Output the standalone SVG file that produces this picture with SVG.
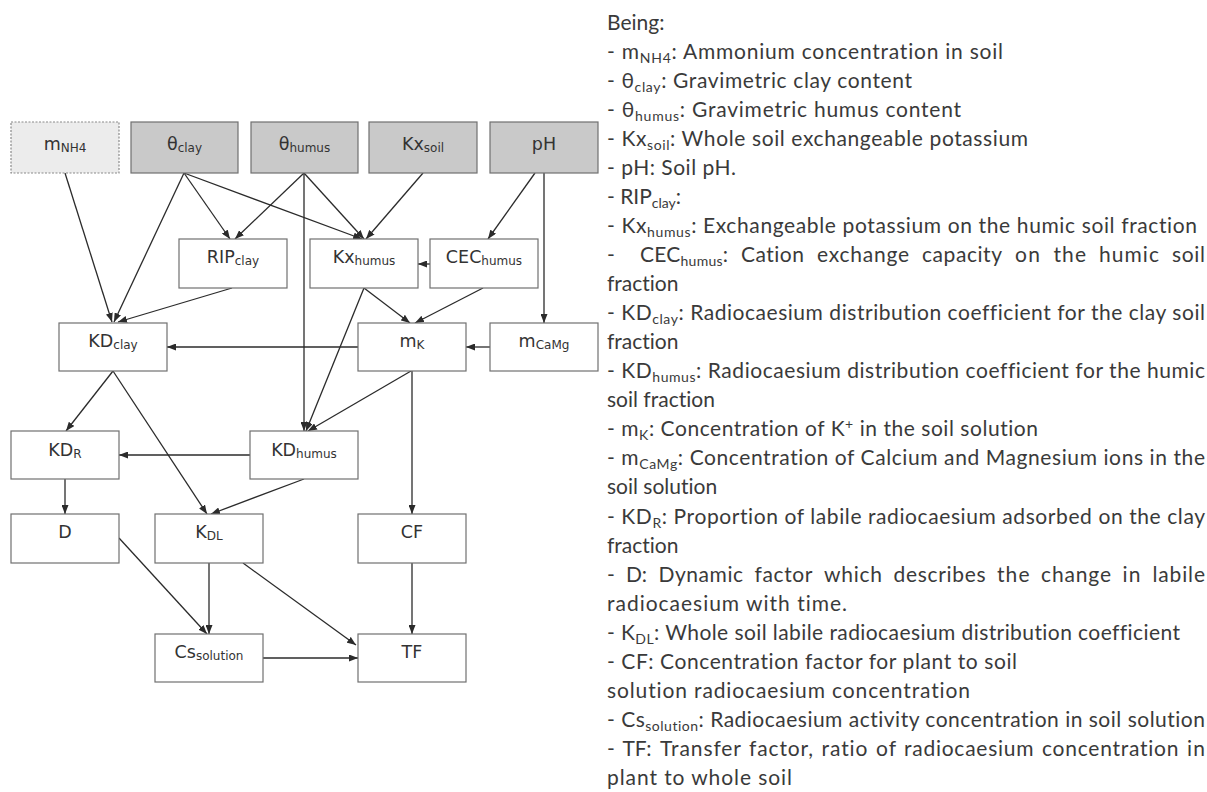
<svg xmlns="http://www.w3.org/2000/svg" width="1207" height="792" viewBox="0 0 1207 792">
<defs>
<marker id="arr" markerUnits="userSpaceOnUse" markerWidth="9" markerHeight="7" refX="9" refY="3.5" orient="auto"><path d="M0,0 L9,3.5 L0,7 z" fill="#2b2b2b"/></marker>
<style>
.box{fill:#fff;stroke:#707070;stroke-width:1.2}
.in{fill:#c9c9c9}
.opt{fill:#ececec;stroke:#8a8a8a;stroke-dasharray:2 1.5}
.lbl{font-family:'DejaVu Sans',Verdana,sans-serif;font-size:17.5px;fill:#333;text-anchor:middle}
.sub{font-size:12px}
.edge{stroke:#2b2b2b;stroke-width:1.3;fill:none;marker-end:url(#arr)}
.lg{font-family:Lato,'Noto Sans',sans-serif;font-size:21px;fill:#3a3a3a;font-variant-ligatures:none;font-feature-settings:"liga" 0}
.ls{font-size:14px}
</style>
</defs>
<rect width="1207" height="792" fill="#fff"/>

<!-- connectors -->
<g id="connectors">
<line class="edge" x1="65" y1="173" x2="112" y2="322"/>
<line class="edge" x1="184" y1="173" x2="114" y2="322"/>
<line class="edge" x1="184" y1="173" x2="230" y2="239"/>
<line class="edge" x1="184" y1="173" x2="362" y2="239"/>
<line class="edge" x1="304" y1="173" x2="235" y2="239"/>
<line class="edge" x1="304" y1="173" x2="364" y2="239"/>
<line class="edge" x1="304" y1="173" x2="304" y2="431"/>
<line class="edge" x1="423" y1="173" x2="366" y2="239"/>
<line class="edge" x1="535" y1="173" x2="488" y2="239"/>
<line class="edge" x1="544" y1="173" x2="544" y2="323"/>
<line class="edge" x1="430" y1="264" x2="418" y2="264"/>
<line class="edge" x1="232" y1="288" x2="118" y2="322"/>
<line class="edge" x1="364" y1="288" x2="410" y2="323"/>
<line class="edge" x1="364" y1="288" x2="306" y2="431"/>
<line class="edge" x1="483" y1="288" x2="415" y2="323"/>
<line class="edge" x1="490" y1="347" x2="466" y2="347"/>
<line class="edge" x1="358" y1="347" x2="167" y2="347"/>
<line class="edge" x1="411" y1="371" x2="308" y2="431"/>
<line class="edge" x1="412" y1="371" x2="412" y2="514"/>
<line class="edge" x1="113" y1="371" x2="66" y2="431"/>
<line class="edge" x1="113" y1="371" x2="207" y2="514"/>
<line class="edge" x1="250" y1="455" x2="119" y2="455"/>
<line class="edge" x1="304" y1="479" x2="211" y2="514"/>
<line class="edge" x1="65" y1="479" x2="65" y2="514"/>
<line class="edge" x1="119" y1="538" x2="207" y2="634"/>
<line class="edge" x1="209" y1="563" x2="209" y2="634"/>
<line class="edge" x1="243" y1="563" x2="356" y2="645"/>
<line class="edge" x1="412" y1="563" x2="412" y2="634"/>
<line class="edge" x1="263" y1="658" x2="358" y2="658"/>
</g>

<!-- input variables -->
<g id="mNH4"><rect class="box opt" x="11" y="122" width="108" height="51"/><text class="lbl" x="65" y="150">m<tspan class="sub" dy="2">NH4</tspan></text></g>
<g id="thetaClay"><rect class="box in" x="131" y="122" width="107" height="51"/><text class="lbl" x="184.5" y="150">θ<tspan class="sub" dy="2">clay</tspan></text></g>
<g id="thetaHumus"><rect class="box in" x="251" y="122" width="107" height="51"/><text class="lbl" x="304.5" y="150">θ<tspan class="sub" dy="2">humus</tspan></text></g>
<g id="KxSoil"><rect class="box in" x="369" y="122" width="108" height="51"/><text class="lbl" x="423" y="150">Kx<tspan class="sub" dy="2">soil</tspan></text></g>
<g id="pH"><rect class="box in" x="490" y="122" width="108" height="51"/><text class="lbl" x="544" y="150">pH</text></g>

<!-- intermediate quantities -->
<g id="RIPclay"><rect class="box" x="179" y="239" width="108" height="49"/><text class="lbl" x="233" y="263">RIP<tspan class="sub" dy="2">clay</tspan></text></g>
<g id="KxHumus"><rect class="box" x="310" y="239" width="108" height="49"/><text class="lbl" x="364" y="263">Kx<tspan class="sub" dy="2">humus</tspan></text></g>
<g id="CECHumus"><rect class="box" x="430" y="239" width="108" height="49"/><text class="lbl" x="484" y="263">CEC<tspan class="sub" dy="2">humus</tspan></text></g>
<g id="KDclay"><rect class="box" x="59" y="323" width="108" height="48"/><text class="lbl" x="113" y="347">KD<tspan class="sub" dy="2">clay</tspan></text></g>
<g id="mK"><rect class="box" x="358" y="323" width="108" height="48"/><text class="lbl" x="412" y="347">m<tspan class="sub" dy="2">K</tspan></text></g>
<g id="mCaMg"><rect class="box" x="490" y="323" width="108" height="48"/><text class="lbl" x="544" y="347">m<tspan class="sub" dy="2">CaMg</tspan></text></g>
<g id="KDR"><rect class="box" x="11" y="431" width="108" height="48"/><text class="lbl" x="65" y="456">KD<tspan class="sub" dy="2">R</tspan></text></g>
<g id="KDhumus"><rect class="box" x="250" y="431" width="108" height="48"/><text class="lbl" x="304" y="456">KD<tspan class="sub" dy="2">humus</tspan></text></g>
<g id="D"><rect class="box" x="11" y="514" width="108" height="49"/><text class="lbl" x="65" y="538">D</text></g>
<g id="KDL"><rect class="box" x="155" y="514" width="108" height="49"/><text class="lbl" x="209" y="538">K<tspan class="sub" dy="2">DL</tspan></text></g>
<g id="CF"><rect class="box" x="358" y="514" width="108" height="49"/><text class="lbl" x="412" y="538">CF</text></g>
<g id="CsSolution"><rect class="box" x="155" y="634" width="108" height="48"/><text class="lbl" x="209" y="658">Cs<tspan class="sub" dy="2">solution</tspan></text></g>
<g id="TF"><rect class="box" x="358" y="634" width="108" height="48"/><text class="lbl" x="412" y="658">TF</text></g>

<!-- legend (justified paragraph, right column 607..1205) -->
<g id="legend">
<text class="lg" x="607" y="29.5">Being:</text>
<text class="lg" x="607" y="58.5" textLength="396">- m<tspan class="ls" dy="4">NH4</tspan><tspan dy="-4">: Ammonium concentration in soil</tspan></text>
<text class="lg" x="607" y="87.6" textLength="305">- θ<tspan class="ls" dy="4">clay</tspan><tspan dy="-4">: Gravimetric clay content</tspan></text>
<text class="lg" x="607" y="116.6" textLength="354">- θ<tspan class="ls" dy="4">humus</tspan><tspan dy="-4">: Gravimetric humus content</tspan></text>
<text class="lg" x="607" y="145.7" textLength="421">- Kx<tspan class="ls" dy="4">soil</tspan><tspan dy="-4">: Whole soil exchangeable potassium</tspan></text>
<text class="lg" x="607" y="174.7" textLength="129">- pH: Soil pH.</text>
<text class="lg" x="607" y="203.8">- RIP<tspan class="ls" dy="4">clay</tspan><tspan dy="-4">:</tspan></text>
<text class="lg" x="607" y="232.9" textLength="590">- Kx<tspan class="ls" dy="4">humus</tspan><tspan dy="-4">: Exchangeable potassium on the humic soil fraction</tspan></text>
<g id="lineCEC">
<text class="lg" x="607" y="261.9">-</text>
<text class="lg" x="640" y="261.9" textLength="88">CEC<tspan class="ls" dy="4">humus</tspan><tspan dy="-4">:</tspan></text>
<text class="lg" x="741" y="261.9" textLength="63">Cation</text>
<text class="lg" x="817" y="261.9" textLength="92">exchange</text>
<text class="lg" x="922" y="261.9" textLength="80">capacity</text>
<text class="lg" x="1015" y="261.9" textLength="25">on</text>
<text class="lg" x="1053.5" y="261.9" textLength="32.5">the</text>
<text class="lg" x="1099" y="261.9" textLength="60">humic</text>
<text class="lg" x="1172" y="261.9" textLength="33">soil</text>
</g>
<text class="lg" x="607" y="291.0">fraction</text>
<text class="lg" x="607" y="320.0" textLength="598">- KD<tspan class="ls" dy="4">clay</tspan><tspan dy="-4">: Radiocaesium distribution coefficient for the clay soil</tspan></text>
<text class="lg" x="607" y="349.1">fraction</text>
<text class="lg" x="607" y="378.2" textLength="598">- KD<tspan class="ls" dy="4">humus</tspan><tspan dy="-4">: Radiocaesium distribution coefficient for the humic</tspan></text>
<text class="lg" x="607" y="407.2">soil fraction</text>
<text class="lg" x="607" y="436.3" textLength="431">- m<tspan class="ls" dy="4">K</tspan><tspan dy="-4">: Concentration of K</tspan><tspan class="ls" dy="-7">+</tspan><tspan dy="7"> in the soil solution</tspan></text>
<text class="lg" x="607" y="465.3" textLength="598">- m<tspan class="ls" dy="4">CaMg</tspan><tspan dy="-4">: Concentration of Calcium and Magnesium ions in the</tspan></text>
<text class="lg" x="607" y="494.4">soil solution</text>
<text class="lg" x="607" y="523.5" textLength="598">- KD<tspan class="ls" dy="4">R</tspan><tspan dy="-4">: Proportion of labile radiocaesium adsorbed on the clay</tspan></text>
<text class="lg" x="607" y="552.5">fraction</text>
<g id="lineD">
<text class="lg" x="607" y="581.6">-</text>
<text class="lg" x="626" y="581.6" textLength="21">D:</text>
<text class="lg" x="658.5" y="581.6" textLength="84.5">Dynamic</text>
<text class="lg" x="754.5" y="581.6" textLength="58">factor</text>
<text class="lg" x="824" y="581.6" textLength="58">which</text>
<text class="lg" x="893.5" y="581.6" textLength="92">describes</text>
<text class="lg" x="997" y="581.6" textLength="32.5">the</text>
<text class="lg" x="1041" y="581.6" textLength="70">change</text>
<text class="lg" x="1122.5" y="581.6" textLength="18">in</text>
<text class="lg" x="1152.5" y="581.6" textLength="52.5">labile</text>
</g>
<text class="lg" x="607" y="610.6" textLength="240">radiocaesium with time.</text>
<text class="lg" x="607" y="639.7" textLength="573">- K<tspan class="ls" dy="4">DL</tspan><tspan dy="-4">: Whole soil labile radiocaesium distribution coefficient</tspan></text>
<text class="lg" x="607" y="668.8" textLength="410">- CF: Concentration factor for plant to soil</text>
<text class="lg" x="607" y="697.8" textLength="363">solution radiocaesium concentration</text>
<text class="lg" x="607" y="726.9" textLength="598">- Cs<tspan class="ls" dy="4">solution</tspan><tspan dy="-4">: Radiocaesium activity concentration in soil solution</tspan></text>
<g id="lineTF">
<text class="lg" x="607" y="755.9">-</text>
<text class="lg" x="622.5" y="755.9" textLength="29">TF:</text>
<text class="lg" x="660" y="755.9" textLength="81">Transfer</text>
<text class="lg" x="749" y="755.9" textLength="64">factor,</text>
<text class="lg" x="821.5" y="755.9" textLength="46">ratio</text>
<text class="lg" x="876" y="755.9" textLength="20">of</text>
<text class="lg" x="904" y="755.9" textLength="129.5">radiocaesium</text>
<text class="lg" x="1042" y="755.9" textLength="136.5">concentration</text>
<text class="lg" x="1187" y="755.9" textLength="18">in</text>
</g>
<text class="lg" x="607" y="785.0" textLength="185">plant to whole soil</text>
</g>
</svg>
